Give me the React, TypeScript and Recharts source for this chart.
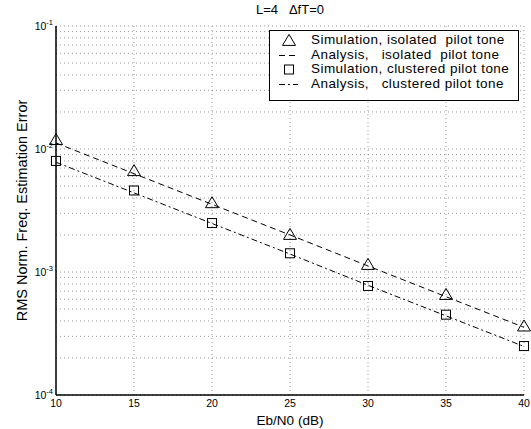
import { LineChart, Line, XAxis, YAxis, CartesianGrid, Legend } from 'recharts'

const ebN0 = [10, 15, 20, 25, 30, 35, 40]
const simIsolated = [1.18e-2, 6.6e-3, 3.62e-3, 2.0e-3, 1.14e-3, 6.5e-4, 3.6e-4]
const anaIsolated = [1.12e-2, 6.3e-3, 3.55e-3, 2.0e-3, 1.12e-3, 6.3e-4, 3.55e-4]
const simClustered = [8.0e-3, 4.6e-3, 2.5e-3, 1.42e-3, 7.7e-4, 4.5e-4, 2.5e-4]
const anaClustered = [7.8e-3, 4.4e-3, 2.48e-3, 1.4e-3, 7.8e-4, 4.4e-4, 2.48e-4]

const xTicks = [10, 15, 20, 25, 30, 35, 40]
const decades = [-4, -3, -2]
const yTicks = [...decades.flatMap(d => [1, 2, 3, 4, 5, 6, 7, 8, 9].map(m => m * Math.pow(10, d))), 1e-1]

const legendItems = [
  { label: 'Simulation, isolated  pilot tone', kind: 'triangle' },
  { label: 'Analysis,   isolated  pilot tone', kind: 'dash' },
  { label: 'Simulation, clustered pilot tone', kind: 'square' },
  { label: 'Analysis,   clustered pilot tone', kind: 'dashdot' },
]

const data = ebN0.map((x, i) => ({
  x,
  simIsolated: simIsolated[i],
  anaIsolated: anaIsolated[i],
  simClustered: simClustered[i],
  anaClustered: anaClustered[i],
}))

const FONT = '"Liberation Sans", Arial, Helvetica, sans-serif'

function Triangle({ cx, cy }: { cx?: number; cy?: number }) {
  if (cx == null || cy == null) return null
  const h = 11
  const w = 13
  return <path d={`M${cx},${cy - h * 0.6} L${cx + w / 2},${cy + h * 0.4} L${cx - w / 2},${cy + h * 0.4} Z`} fill="none" stroke="#000" strokeWidth={1} />
}

function Square({ cx, cy }: { cx?: number; cy?: number }) {
  if (cx == null || cy == null) return null
  const s = 9
  return <rect x={cx - s / 2} y={cy - s / 2} width={s} height={s} fill="none" stroke="#000" strokeWidth={1} />
}

function YTick(props: any) {
  const { x, y, payload } = props
  const v = payload.value
  const lg = Math.log10(v)
  const e = Math.round(lg)
  if (Math.abs(lg - e) > 1e-6) return <g />
  return (
    <text x={x} y={y} textAnchor="end" fontFamily={FONT} fontSize={10.5} fill="#000">
      <tspan dy="0.35em">10</tspan>
      <tspan dy={-5} fontSize={7.5}>{e}</tspan>
    </text>
  )
}

function LegendBox() {
  return (
    <div style={{ border: '1px solid #000', background: '#fff', width: 248, height: 67, boxSizing: 'content-box', padding: '2px 0 0 0', fontFamily: FONT, fontSize: 13.5, letterSpacing: 0.45, color: '#000' }}>
      {legendItems.map(it => (
        <div key={it.label} style={{ display: 'flex', alignItems: 'center', height: 14.6, lineHeight: '14.6px' }}>
          <svg width={41} height={14} style={{ flex: 'none' }}>
            {it.kind === 'triangle' && <Triangle cx={19} cy={8} />}
            {it.kind === 'square' && <Square cx={19} cy={7.5} />}
            {it.kind === 'dash' && <line x1={9} x2={28} y1={7.5} y2={7.5} stroke="#000" strokeDasharray="6 4" />}
            {it.kind === 'dashdot' && <line x1={9} x2={28} y1={7.5} y2={7.5} stroke="#000" strokeDasharray="6 3 2 3" />}
          </svg>
          <span style={{ whiteSpace: 'pre' }}>{it.label}</span>
        </div>
      ))}
    </div>
  )
}

export default function App() {
  return (
    <div style={{ position: 'absolute', left: 0, top: 0, width: 531, height: 429, background: '#fff', fontFamily: FONT }}>
      <div style={{ position: 'absolute', left: 0, width: 580, top: 2, textAlign: 'center', fontSize: 13, whiteSpace: 'pre', zIndex: 1 }}>
        {'L=4   \u0394fT=0'}
      </div>
      <LineChart width={531} height={429} data={data} margin={{ top: 26, right: 7, bottom: 0, left: 0 }}>
        <CartesianGrid stroke="#999" strokeDasharray="1 3" />
        <XAxis
          dataKey="x"
          type="number"
          domain={[10, 40]}
          ticks={xTicks}
          height={34}
          tickSize={0}
          tickMargin={5}
          tick={{ fontFamily: FONT, fontSize: 10.5, fill: '#000' }}
          axisLine={{ stroke: '#000', strokeWidth: 1.5 }}
          label={{ value: 'Eb/N0 (dB)', position: 'insideBottom', offset: 4, style: { fontFamily: FONT, fontSize: 13.5, fill: '#000' } }}
        />
        <XAxis xAxisId="top" orientation="top" dataKey="x" type="number" domain={[10, 40]} height={0} tick={false} tickLine={false} axisLine={{ stroke: '#000', strokeWidth: 1.5 }} />
        <YAxis
          type="number"
          scale="log"
          domain={[1e-4, 1e-1]}
          ticks={yTicks}
          width={56}
          tickSize={0}
          tickMargin={3}
          tick={YTick}
          interval={0}
          axisLine={{ stroke: '#000', strokeWidth: 1.5 }}
          label={{ value: 'RMS Norm. Freq. Estimation Error', angle: -90, position: 'insideLeft', offset: 22, style: { fontFamily: FONT, fontSize: 14.5, fill: '#000', textAnchor: 'middle' } }}
        />
        <YAxis yAxisId="right" orientation="right" width={0} tick={false} tickLine={false} axisLine={{ stroke: '#000', strokeWidth: 1.5 }} />
        <Legend layout="horizontal" verticalAlign="middle" align="center" wrapperStyle={{ left: 269, top: 30, width: 250 }} content={() => <LegendBox />} />
        <Line dataKey="anaIsolated" stroke="#000" strokeWidth={1} strokeDasharray="6 4" dot={false} isAnimationActive={false} />
        <Line dataKey="anaClustered" stroke="#000" strokeWidth={1} strokeDasharray="6 3 2 3" dot={false} isAnimationActive={false} />
        <Line dataKey="simIsolated" stroke="none" dot={(p: any) => <Triangle key={`t${p.index}`} cx={p.cx} cy={p.cy} />} isAnimationActive={false} />
        <Line dataKey="simClustered" stroke="none" dot={(p: any) => <Square key={`s${p.index}`} cx={p.cx} cy={p.cy} />} isAnimationActive={false} />
      </LineChart>
    </div>
  )
}
